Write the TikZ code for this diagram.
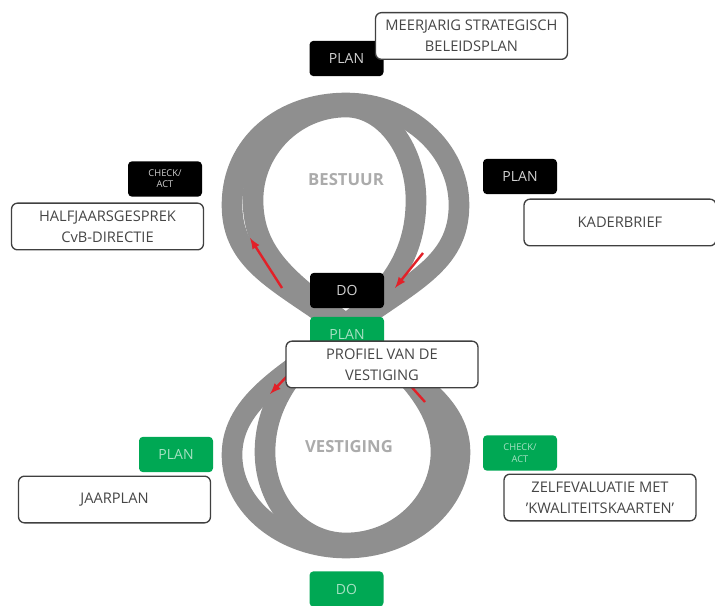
\documentclass[tikz,border=0pt]{standalone}
\usepackage{fontspec}
\setmainfont{Open Sans}
\usetikzlibrary{arrows.meta}
\definecolor{kgreen}{RGB}{0,168,84}
\definecolor{kred}{RGB}{226,32,40}
\definecolor{kband}{RGB}{143,143,143}
\definecolor{ktext}{RGB}{70,70,70}

\begin{document}
\begin{tikzpicture}[x=0.75pt, y=-0.75pt,
  band/.style={line width=15.5pt, kband, line join=round},
  flow/.style={-latex, line width=1.8pt, kred},
  tagblack/.style={fill=black, text=black!18, rounded corners=3pt, minimum width=55.5pt, minimum height=26.5pt, inner sep=0pt, font=\fontsize{10.5}{12}\selectfont},
  taggreen/.style={tagblack, fill=kgreen, text=kgreen!35},
  smalltag/.style={font=\fontsize{7}{8.5}\selectfont, align=center},
  infobox/.style={draw=black!75, line width=1pt, fill=white, rounded corners=4.5pt, minimum width=144pt, minimum height=35pt, inner sep=0pt, align=center, text=ktext, font=\fontsize{11}{16}\selectfont},
  looplabel/.style={text=black!33, font=\fontsize{12.5}{14}\selectfont\bfseries}]
  \useasboundingbox (0,0) rectangle (715,606);

  % outer strand of the eight
  \draw[band] (346,330) .. controls (282,282) and (232,265) .. (232,205)
    .. controls (232,143) and (283,103) .. (346,103)
    .. controls (408,103) and (459,149) .. (459,205)
    .. controls (459,265) and (410,282) .. (346,330)
    .. controls (290,372) and (232,400) .. (232,455)
    .. controls (232,506) and (283,548) .. (346,548)
    .. controls (409,548) and (460,505) .. (460,452)
    .. controls (460,400) and (402,372) .. (346,330) -- cycle;
  % inner strand of the eight
  \draw[band] (346,324) .. controls (290,282) and (253,255) .. (253,200)
    .. controls (253,149) and (295,107) .. (346,107)
    .. controls (385,107) and (416,150) .. (416,200)
    .. controls (416,250) and (394,288) .. (346,324)
    .. controls (298,360) and (265,400) .. (265,452)
    .. controls (265,502) and (300,543) .. (346,543)
    .. controls (398,543) and (441,502) .. (441,452)
    .. controls (441,400) and (394,360) .. (346,324) -- cycle;

  \node[looplabel] (bestuur) at (346,180) {BESTUUR};
  \node[looplabel] (vestiging) at (349,447) {VESTIGING};

  % direction of the cycle
  \coordinate (ula) at (282,288);
  \coordinate (ulb) at (250,238);
  \coordinate (ura) at (423,253);
  \coordinate (urb) at (395,288);
  \coordinate (lla) at (292,371);
  \coordinate (llb) at (270,394);
  \coordinate (lra) at (425,402);
  \coordinate (lrb) at (400,374);
  \draw[flow] (ula) -- (ulb);
  \draw[flow] (ura) -- (urb);
  \draw[flow] (lla) -- (llb);
  \draw[flow] (lra) -- (lrb);

  % bestuur
  \node[tagblack] (planTop) at (346.5,58.5) {PLAN};
  \node[infobox] (meerjarig) at (471.5,36) {MEERJARIG STRATEGISCH\\BELEIDSPLAN};
  \node[tagblack, smalltag] (checkTop) at (165,179) {CHECK/\\ACT};
  \node[infobox] (halfjaar) at (107.5,226.5) {HALFJAARSGESPREK\\CvB-DIRECTIE};
  \node[tagblack] (planRight) at (520,176.5) {PLAN};
  \node[infobox] (kaderbrief) at (620,222.5) {KADERBRIEF};
  \node[tagblack] (doTop) at (347,290.5) {DO};

  % vestiging
  \node[taggreen] (planMid) at (347,334.5) {PLAN};
  \node[infobox] (profiel) at (382,364.5) {PROFIEL VAN DE\\VESTIGING};
  \node[taggreen] (planLeft) at (176,454.5) {PLAN};
  \node[infobox] (jaarplan) at (114.5,499.5) {JAARPLAN};
  \node[taggreen, smalltag] (checkBot) at (520,453) {CHECK/\\ACT};
  \node[infobox] (zelfevaluatie) at (600,497.5) {ZELFEVALUATIE MET\\'KWALITEITSKAARTEN'};
  \node[taggreen] (doBot) at (346.5,589) {DO};
\end{tikzpicture}
\end{document}
